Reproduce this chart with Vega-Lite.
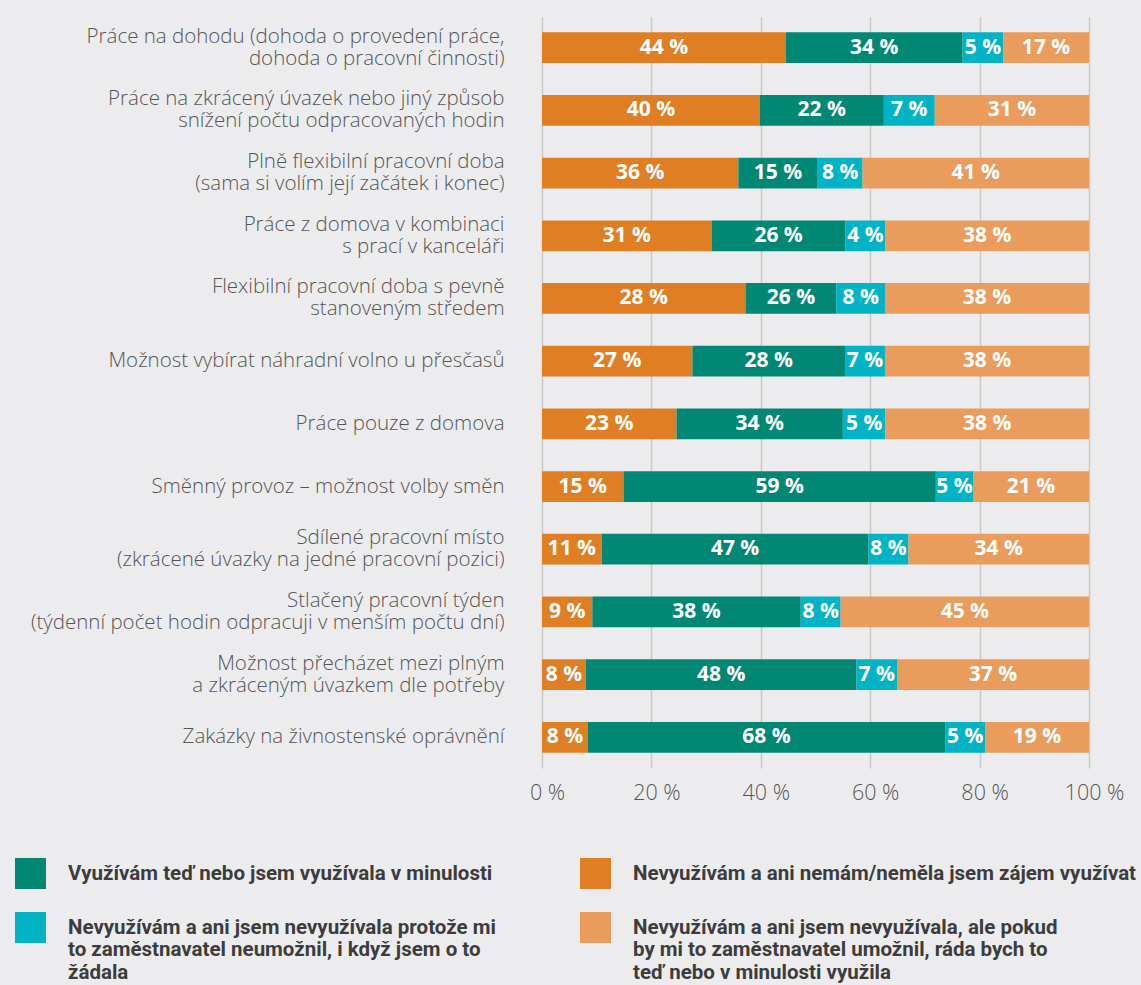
{
  "$schema": "https://vega.github.io/schema/vega-lite/v6.json",
  "width": 547,
  "height": 751,
  "autosize": {"type": "none"},
  "padding": {"left": 542, "top": 17, "right": 52, "bottom": 217},
  "background": "#ececee",
  "config": {"view": {"stroke": null}, "font": "Open Sans"},
  "data": {"values": [
    {"item": "Práce na dohodu (dohoda o provedení práce,|dohoda o pracovní činnosti)", "group": "Nevyužívám a ani nemám/neměla jsem zájem využívat", "value": 44.6, "label": "44 %"},
    {"item": "Práce na dohodu (dohoda o provedení práce,|dohoda o pracovní činnosti)", "group": "Využívám teď nebo jsem využívala v minulosti", "value": 32.3, "label": "34 %"},
    {"item": "Práce na dohodu (dohoda o provedení práce,|dohoda o pracovní činnosti)", "group": "Nevyužívám a ani jsem nevyužívala protože mi|to zaměstnavatel neumožnil, i když jsem o to|žádala", "value": 7.4, "label": "5 %"},
    {"item": "Práce na dohodu (dohoda o provedení práce,|dohoda o pracovní činnosti)", "group": "Nevyužívám a ani jsem nevyužívala, ale pokud|by mi to zaměstnavatel umožnil, ráda bych to|teď nebo v minulosti využila", "value": 15.7, "label": "17 %"},

    {"item": "Práce na zkrácený úvazek nebo jiný způsob|snížení počtu odpracovaných hodin", "group": "Nevyužívám a ani nemám/neměla jsem zájem využívat", "value": 39.8, "label": "40 %"},
    {"item": "Práce na zkrácený úvazek nebo jiný způsob|snížení počtu odpracovaných hodin", "group": "Využívám teď nebo jsem využívala v minulosti", "value": 22.7, "label": "22 %"},
    {"item": "Práce na zkrácený úvazek nebo jiný způsob|snížení počtu odpracovaných hodin", "group": "Nevyužívám a ani jsem nevyužívala protože mi|to zaměstnavatel neumožnil, i když jsem o to|žádala", "value": 9.3, "label": "7 %"},
    {"item": "Práce na zkrácený úvazek nebo jiný způsob|snížení počtu odpracovaných hodin", "group": "Nevyužívám a ani jsem nevyužívala, ale pokud|by mi to zaměstnavatel umožnil, ráda bych to|teď nebo v minulosti využila", "value": 28.2, "label": "31 %"},

    {"item": "Plně flexibilní pracovní doba|(sama si volím její začátek i konec)", "group": "Nevyužívám a ani nemám/neměla jsem zájem využívat", "value": 35.9, "label": "36 %"},
    {"item": "Plně flexibilní pracovní doba|(sama si volím její začátek i konec)", "group": "Využívám teď nebo jsem využívala v minulosti", "value": 14.5, "label": "15 %"},
    {"item": "Plně flexibilní pracovní doba|(sama si volím její začátek i konec)", "group": "Nevyužívám a ani jsem nevyužívala protože mi|to zaměstnavatel neumožnil, i když jsem o to|žádala", "value": 8.2, "label": "8 %"},
    {"item": "Plně flexibilní pracovní doba|(sama si volím její začátek i konec)", "group": "Nevyužívám a ani jsem nevyužívala, ale pokud|by mi to zaměstnavatel umožnil, ráda bych to|teď nebo v minulosti využila", "value": 41.4, "label": "41 %"},

    {"item": "Práce z domova v kombinaci|s prací v kanceláři", "group": "Nevyužívám a ani nemám/neměla jsem zájem využívat", "value": 31.0, "label": "31 %"},
    {"item": "Práce z domova v kombinaci|s prací v kanceláři", "group": "Využívám teď nebo jsem využívala v minulosti", "value": 24.5, "label": "26 %"},
    {"item": "Práce z domova v kombinaci|s prací v kanceláři", "group": "Nevyužívám a ani jsem nevyužívala protože mi|to zaměstnavatel neumožnil, i když jsem o to|žádala", "value": 7.3, "label": "4 %"},
    {"item": "Práce z domova v kombinaci|s prací v kanceláři", "group": "Nevyužívám a ani jsem nevyužívala, ale pokud|by mi to zaměstnavatel umožnil, ráda bych to|teď nebo v minulosti využila", "value": 37.2, "label": "38 %"},

    {"item": "Flexibilní pracovní doba s pevně|stanoveným středem", "group": "Nevyužívám a ani nemám/neměla jsem zájem využívat", "value": 37.2, "label": "28 %"},
    {"item": "Flexibilní pracovní doba s pevně|stanoveným středem", "group": "Využívám teď nebo jsem využívala v minulosti", "value": 16.6, "label": "26 %"},
    {"item": "Flexibilní pracovní doba s pevně|stanoveným středem", "group": "Nevyužívám a ani jsem nevyužívala protože mi|to zaměstnavatel neumožnil, i když jsem o to|žádala", "value": 8.9, "label": "8 %"},
    {"item": "Flexibilní pracovní doba s pevně|stanoveným středem", "group": "Nevyužívám a ani jsem nevyužívala, ale pokud|by mi to zaměstnavatel umožnil, ráda bych to|teď nebo v minulosti využila", "value": 37.3, "label": "38 %"},

    {"item": "Možnost vybírat náhradní volno u přesčasů", "group": "Nevyužívám a ani nemám/neměla jsem zájem využívat", "value": 27.5, "label": "27 %"},
    {"item": "Možnost vybírat náhradní volno u přesčasů", "group": "Využívám teď nebo jsem využívala v minulosti", "value": 27.9, "label": "28 %"},
    {"item": "Možnost vybírat náhradní volno u přesčasů", "group": "Nevyužívám a ani jsem nevyužívala protože mi|to zaměstnavatel neumožnil, i když jsem o to|žádala", "value": 7.3, "label": "7 %"},
    {"item": "Možnost vybírat náhradní volno u přesčasů", "group": "Nevyužívám a ani jsem nevyužívala, ale pokud|by mi to zaměstnavatel umožnil, ráda bych to|teď nebo v minulosti využila", "value": 37.3, "label": "38 %"},

    {"item": "Práce pouze z domova", "group": "Nevyužívám a ani nemám/neměla jsem zájem využívat", "value": 24.6, "label": "23 %"},
    {"item": "Práce pouze z domova", "group": "Využívám teď nebo jsem využívala v minulosti", "value": 30.4, "label": "34 %"},
    {"item": "Práce pouze z domova", "group": "Nevyužívám a ani jsem nevyužívala protože mi|to zaměstnavatel neumožnil, i když jsem o to|žádala", "value": 7.8, "label": "5 %"},
    {"item": "Práce pouze z domova", "group": "Nevyužívám a ani jsem nevyužívala, ale pokud|by mi to zaměstnavatel umožnil, ráda bych to|teď nebo v minulosti využila", "value": 37.2, "label": "38 %"},

    {"item": "Směnný provoz – možnost volby směn", "group": "Nevyužívám a ani nemám/neměla jsem zájem využívat", "value": 14.9, "label": "15 %"},
    {"item": "Směnný provoz – možnost volby směn", "group": "Využívám teď nebo jsem využívala v minulosti", "value": 57.1, "label": "59 %"},
    {"item": "Směnný provoz – možnost volby směn", "group": "Nevyužívám a ani jsem nevyužívala protože mi|to zaměstnavatel neumožnil, i když jsem o to|žádala", "value": 6.8, "label": "5 %"},
    {"item": "Směnný provoz – možnost volby směn", "group": "Nevyužívám a ani jsem nevyužívala, ale pokud|by mi to zaměstnavatel umožnil, ráda bych to|teď nebo v minulosti využila", "value": 21.2, "label": "21 %"},

    {"item": "Sdílené pracovní místo|(zkrácené úvazky na jedné pracovní pozici)", "group": "Nevyužívám a ani nemám/neměla jsem zájem využívat", "value": 10.9, "label": "11 %"},
    {"item": "Sdílené pracovní místo|(zkrácené úvazky na jedné pracovní pozici)", "group": "Využívám teď nebo jsem využívala v minulosti", "value": 48.8, "label": "47 %"},
    {"item": "Sdílené pracovní místo|(zkrácené úvazky na jedné pracovní pozici)", "group": "Nevyužívám a ani jsem nevyužívala protože mi|to zaměstnavatel neumožnil, i když jsem o to|žádala", "value": 7.3, "label": "8 %"},
    {"item": "Sdílené pracovní místo|(zkrácené úvazky na jedné pracovní pozici)", "group": "Nevyužívám a ani jsem nevyužívala, ale pokud|by mi to zaměstnavatel umožnil, ráda bych to|teď nebo v minulosti využila", "value": 33.0, "label": "34 %"},

    {"item": "Stlačený pracovní týden|(týdenní počet hodin odpracuji v menším počtu dní)", "group": "Nevyužívám a ani nemám/neměla jsem zájem využívat", "value": 9.2, "label": "9 %"},
    {"item": "Stlačený pracovní týden|(týdenní počet hodin odpracuji v menším počtu dní)", "group": "Využívám teď nebo jsem využívala v minulosti", "value": 38.1, "label": "38 %"},
    {"item": "Stlačený pracovní týden|(týdenní počet hodin odpracuji v menším počtu dní)", "group": "Nevyužívám a ani jsem nevyužívala protože mi|to zaměstnavatel neumožnil, i když jsem o to|žádala", "value": 7.3, "label": "8 %"},
    {"item": "Stlačený pracovní týden|(týdenní počet hodin odpracuji v menším počtu dní)", "group": "Nevyužívám a ani jsem nevyužívala, ale pokud|by mi to zaměstnavatel umožnil, ráda bych to|teď nebo v minulosti využila", "value": 45.4, "label": "45 %"},

    {"item": "Možnost přecházet mezi plným|a zkráceným úvazkem dle potřeby", "group": "Nevyužívám a ani nemám/neměla jsem zájem využívat", "value": 8.0, "label": "8 %"},
    {"item": "Možnost přecházet mezi plným|a zkráceným úvazkem dle potřeby", "group": "Využívám teď nebo jsem využívala v minulosti", "value": 49.5, "label": "48 %"},
    {"item": "Možnost přecházet mezi plným|a zkráceným úvazkem dle potřeby", "group": "Nevyužívám a ani jsem nevyužívala protože mi|to zaměstnavatel neumožnil, i když jsem o to|žádala", "value": 7.4, "label": "7 %"},
    {"item": "Možnost přecházet mezi plným|a zkráceným úvazkem dle potřeby", "group": "Nevyužívám a ani jsem nevyužívala, ale pokud|by mi to zaměstnavatel umožnil, ráda bych to|teď nebo v minulosti využila", "value": 35.1, "label": "37 %"},

    {"item": "Zakázky na živnostenské oprávnění", "group": "Nevyužívám a ani nemám/neměla jsem zájem využívat", "value": 8.4, "label": "8 %"},
    {"item": "Zakázky na živnostenské oprávnění", "group": "Využívám teď nebo jsem využívala v minulosti", "value": 65.3, "label": "68 %"},
    {"item": "Zakázky na živnostenské oprávnění", "group": "Nevyužívám a ani jsem nevyužívala protože mi|to zaměstnavatel neumožnil, i když jsem o to|žádala", "value": 7.3, "label": "5 %"},
    {"item": "Zakázky na živnostenské oprávnění", "group": "Nevyužívám a ani jsem nevyužívala, ale pokud|by mi to zaměstnavatel umožnil, ráda bych to|teď nebo v minulosti využila", "value": 19.0, "label": "19 %"}
  ]},
  "transform": [
    {"stack": "value", "groupby": ["item"], "as": ["v0", "v1"]},
    {"calculate": "(datum.v0 + datum.v1) / 2", "as": "mid"}
  ],
  "encoding": {
    "y": {
      "field": "item", "type": "nominal", "sort": null,
      "scale": {"paddingInner": 0.51, "paddingOuter": 0.245},
      "axis": {
        "title": null, "domain": false, "ticks": false, "grid": false,
        "labelPadding": 38, "labelFontSize": 20.5, "labelFontWeight": 300, "labelColor": "#555555",
        "labelLineHeight": 22, "labelLimit": 700,
        "labelOffset": {"condition": {"test": "indexof(datum.label, '|') >= 0", "value": -11}, "value": 0},
        "labelExpr": "split(datum.label, '|')"
      }
    }
  },
  "layer": [
    {
      "mark": {"type": "bar"},
      "encoding": {
        "x": {
          "field": "v0", "type": "quantitative",
          "scale": {"domain": [0, 100], "nice": false},
          "axis": {
            "title": null, "values": [0, 20, 40, 60, 80, 100],
            "labelExpr": "datum.value + ' %'", "labelFlush": false,
            "grid": true, "gridColor": "#c8c8c8", "gridWidth": 1.5,
            "domain": false, "ticks": false, "labelPadding": 14, "labelOffset": 5,
            "labelFontSize": 21.5, "labelFontWeight": 300, "labelColor": "#555555"
          }
        },
        "x2": {"field": "v1"},
        "color": {
          "field": "group", "type": "nominal",
          "scale": {
            "domain": [
              "Využívám teď nebo jsem využívala v minulosti",
              "Nevyužívám a ani nemám/neměla jsem zájem využívat",
              "Nevyužívám a ani jsem nevyužívala protože mi|to zaměstnavatel neumožnil, i když jsem o to|žádala",
              "Nevyužívám a ani jsem nevyužívala, ale pokud|by mi to zaměstnavatel umožnil, ráda bych to|teď nebo v minulosti využila"
            ],
            "range": ["#008875", "#e07e24", "#00b3c5", "#e99c5b"]
          },
          "legend": {
            "orient": "none", "legendX": -527, "legendY": 841,
            "direction": "horizontal",
            "columns": 2, "title": null, "padding": 0,
            "symbolType": "square", "symbolSize": 961, "symbolStrokeWidth": 0, "symbolOpacity": 1,
            "labelFont": "Roboto", "labelFontSize": 20.5, "labelFontWeight": "bold", "labelColor": "#3c3c3c",
            "labelOffset": 22, "columnPadding": 84, "rowPadding": 23,
            "labelLimit": 700, "labelLineHeight": 22,
            "labelExpr": "split(datum.label, '|')"
          }
        }
      }
    },
    {
      "mark": {"type": "text", "color": "white", "fontWeight": "bold", "fontSize": 21},
      "encoding": {
        "x": {"field": "mid", "type": "quantitative"},
        "text": {"field": "label"}
      }
    }
  ]
}
